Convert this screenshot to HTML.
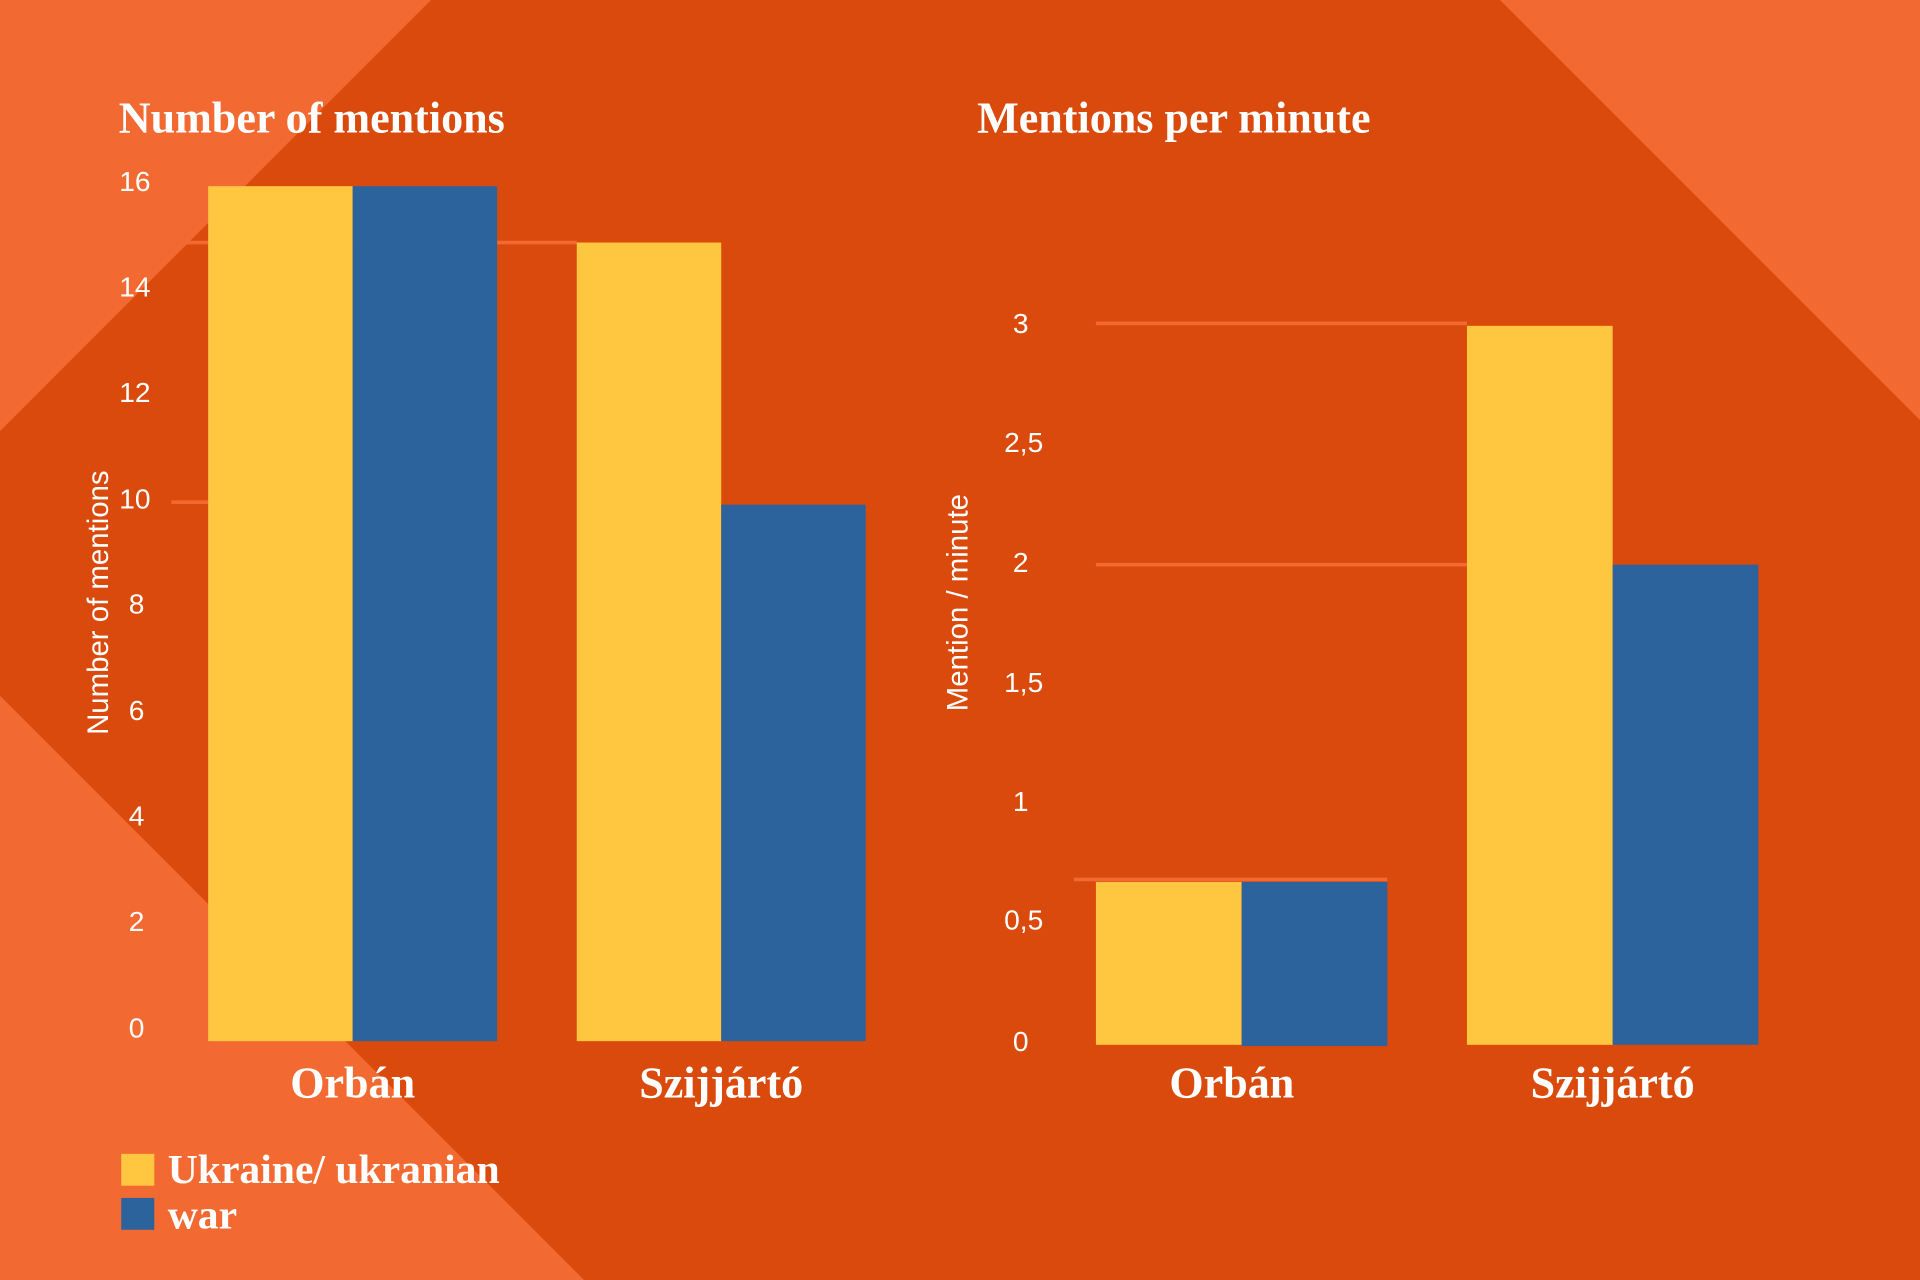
<!DOCTYPE html>
<html><head><meta charset="utf-8"><style>html,body{margin:0;padding:0;background:#D94A0C}svg{display:block}</style></head>
<body>
<svg width="1920" height="1280" viewBox="0 0 1568 1045" preserveAspectRatio="none" xmlns="http://www.w3.org/2000/svg">
<rect width="1568" height="1045" fill="#D94A0C"/>
<polygon points="0,0 352,0 0,352" fill="#F26A32"/>
<polygon points="1225,0 1568,0 1568,343" fill="#F26A32"/>
<polygon points="0,568 477,1045 0,1045" fill="#F26A32"/>
<g stroke="#F26A32" stroke-width="3">
<line x1="140" y1="150" x2="170" y2="150"/>
<line x1="152" y1="198" x2="471" y2="198"/>
<line x1="140" y1="410" x2="170" y2="410"/>
<line x1="895" y1="264" x2="1198" y2="264"/>
<line x1="895" y1="461" x2="1198" y2="461"/>
<line x1="877" y1="718" x2="1133" y2="718"/>
</g>
<rect x="170" y="152" width="118" height="698" fill="#FFC640"/>
<rect x="288" y="152" width="118" height="698" fill="#2D639D"/>
<rect x="471" y="198" width="118" height="652" fill="#FFC640"/>
<rect x="589" y="412" width="118" height="438" fill="#2D639D"/>
<rect x="895" y="720" width="119" height="133" fill="#FFC640"/>
<rect x="1014" y="720" width="119" height="134" fill="#2D639D"/>
<rect x="1198" y="266" width="119" height="587" fill="#FFC640"/>
<rect x="1317" y="461" width="119" height="392" fill="#2D639D"/>
<g fill="#fff" font-family="Liberation Sans, sans-serif" font-size="23" text-anchor="end">
<text x="123" y="156">16</text><text x="123" y="242">14</text><text x="123" y="328">12</text>
<text x="123" y="415">10</text><text x="118" y="501">8</text><text x="118" y="588">6</text>
<text x="118" y="674">4</text><text x="118" y="760">2</text><text x="118" y="847">0</text>
<text x="840" y="272">3</text><text x="852" y="369">2,5</text><text x="840" y="467">2</text>
<text x="852" y="565">1,5</text><text x="840" y="662">1</text><text x="852" y="759">0,5</text><text x="840" y="858">0</text>
</g>
<g fill="#fff" font-family="Liberation Sans, sans-serif" font-size="24" text-anchor="middle">
<text transform="translate(88,492) rotate(-90)">Number of mentions</text>
<text transform="translate(790,492) rotate(-90)">Mention / minute</text>
</g>
<g fill="#fff" font-family="Liberation Serif, serif" font-weight="bold" font-size="36">
<text x="97" y="108">Number of mentions</text>
<text x="798" y="108">Mentions per minute</text>
<g text-anchor="middle">
<text x="288" y="896">Orbán</text><text x="589" y="896">Szijjártó</text>
<text x="1006" y="896">Orbán</text><text x="1317" y="896">Szijjártó</text>
</g>
<text x="137" y="966" font-size="34">Ukraine/ ukranian</text>
<text x="137" y="1003" font-size="34">war</text>
</g>
<rect x="99" y="942" width="27" height="26" fill="#FFC640"/>
<rect x="99" y="978" width="27" height="26" fill="#2D639D"/>
</svg>
</body></html>
